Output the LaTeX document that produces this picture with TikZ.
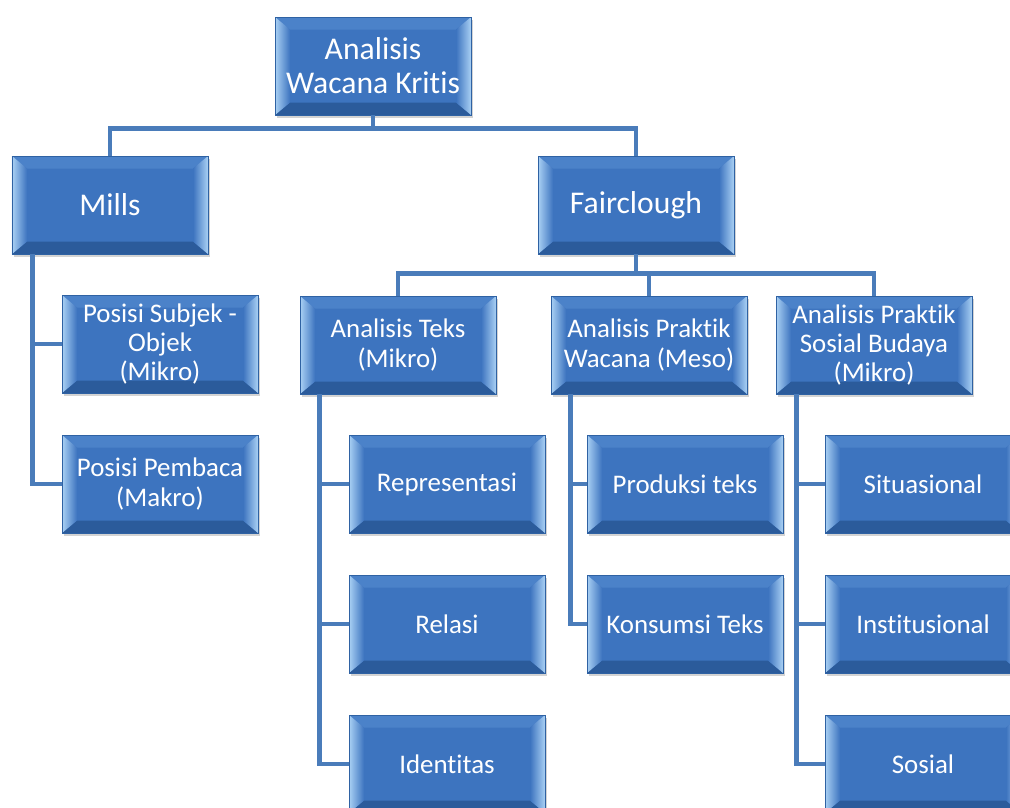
\documentclass[tikz,border=0pt]{standalone}
\usepackage{fontspec}
\setmainfont[Ligatures=CommonOff]{Carlito}
\usepackage{tikz}
\usetikzlibrary{shadows}
\definecolor{boxface}{HTML}{3D74BF}
\definecolor{boxedge}{HTML}{2F62A3}
\definecolor{bevlight}{HTML}{A9D0F4}
\definecolor{bevtop}{HTML}{4B82C9}
\definecolor{bevdark}{HTML}{2B5B9B}
\definecolor{connblue}{HTML}{4A7CBA}

\tikzset{
	wbox/.style={draw=boxedge, line width=0.5pt, fill=boxface, text=white,
		minimum width=3.92cm, minimum height=1.96cm, inner sep=1pt, align=center,
		font=\fontsize{15.3}{16.6}\selectfont,
		drop shadow={opacity=0.35, shadow xshift=0.04cm, shadow yshift=-0.06cm},
		path picture={
			\fill[bevtop] (path picture bounding box.north west) -- (path picture bounding box.north east)
				-- ([xshift=-0.3cm,yshift=-0.25cm]path picture bounding box.north east)
				-- ([xshift=0.3cm,yshift=-0.25cm]path picture bounding box.north west) -- cycle;
			\fill[bevdark] (path picture bounding box.south west) -- (path picture bounding box.south east)
				-- ([xshift=-0.3cm,yshift=0.25cm]path picture bounding box.south east)
				-- ([xshift=0.3cm,yshift=0.25cm]path picture bounding box.south west) -- cycle;
			\shade[left color=bevlight, right color=boxface] (path picture bounding box.south west)
				-- (path picture bounding box.north west)
				-- ([xshift=0.3cm,yshift=-0.25cm]path picture bounding box.north west)
				-- ([xshift=0.3cm,yshift=0.25cm]path picture bounding box.south west) -- cycle;
			\shade[left color=boxface, right color=bevlight] (path picture bounding box.south east)
				-- (path picture bounding box.north east)
				-- ([xshift=-0.3cm,yshift=-0.25cm]path picture bounding box.north east)
				-- ([xshift=-0.3cm,yshift=0.25cm]path picture bounding box.south east) -- cycle;
		}},
	bigbox/.style={wbox, font=\fontsize{18}{19.3}\selectfont},
	conn/.style={draw=connblue, line width=2.8pt}
}

\begin{document}
\begin{tikzpicture}
	\useasboundingbox (0,0) rectangle (20.2,-16.16);
	% akar dan cabang utama
	\node[bigbox] (akar) at (7.46,-1.32) {Analisis\\Wacana Kritis};
	\node[bigbox] (mills) at (2.20,-4.10) {Mills};
	\node[bigbox] (fair) at (12.72,-4.10) {Fairclough};
	% Mills
	\node[wbox] (subjek) at (3.20,-6.88) {Posisi Subjek -\\Objek\\(Mikro)};
	\node[wbox] (pembaca) at (3.20,-9.68) {Posisi Pembaca\\(Makro)};
	% Fairclough
	\node[wbox] (teks) at (7.96,-6.90) {Analisis Teks\\(Mikro)};
	\node[wbox] (wacana) at (12.98,-6.90) {Analisis Praktik\\Wacana (Meso)};
	\node[wbox] (sosbud) at (17.48,-6.90) {Analisis Praktik\\Sosial Budaya\\(Mikro)};
	\node[wbox] (repr) at (8.94,-9.68) {Representasi};
	\node[wbox] (relasi) at (8.94,-12.48) {Relasi};
	\node[wbox] (ident) at (8.94,-15.28) {Identitas};
	\node[wbox] (produksi) at (13.70,-9.68) {Produksi teks};
	\node[wbox] (konsumsi) at (13.70,-12.48) {Konsumsi Teks};
	\node[wbox] (situ) at (18.46,-9.68) {Situasional};
	\node[wbox] (inst) at (18.46,-12.48) {Institusional};
	\node[wbox] (sosial) at (18.46,-15.28) {Sosial};

	\draw[conn] (akar.south) -- ++(0,-0.26) -| (mills.north);
	\draw[conn] (akar.south) -- ++(0,-0.26) -| (fair.north);
	\foreach \k in {teks,wacana,sosbud}
		\draw[conn] (fair.south) -- ++(0,-0.38) -| (\k.north);
	\foreach \k in {subjek,pembaca}
		\draw[conn] ([xshift=0.42cm]mills.south west) |- (\k.west);
	\foreach \k in {repr,relasi,ident}
		\draw[conn] ([xshift=0.4cm]teks.south west) |- (\k.west);
	\foreach \k in {produksi,konsumsi}
		\draw[conn] ([xshift=0.4cm]wacana.south west) |- (\k.west);
	\foreach \k in {situ,inst,sosial}
		\draw[conn] ([xshift=0.42cm]sosbud.south west) |- (\k.west);
\end{tikzpicture}
\end{document}
